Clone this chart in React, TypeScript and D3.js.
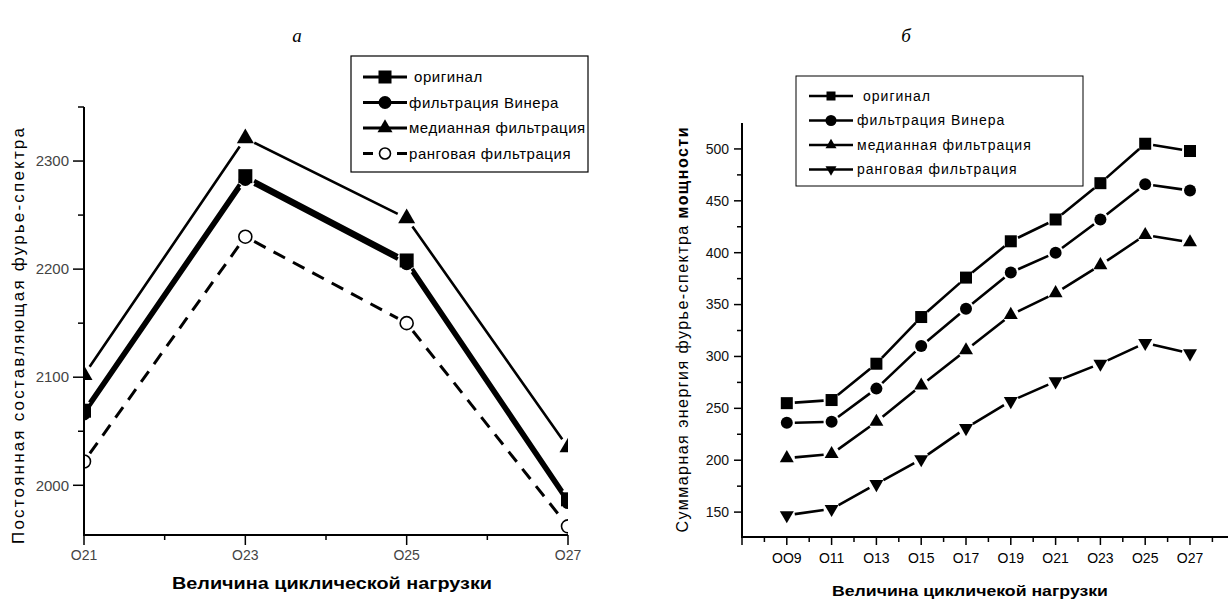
import * as d3 from 'd3';

// --- chart а: постоянная составляющая ---
const leftCats = ['O21', 'O23', 'O25', 'O27'];
const leftOriginal = [2069, 2286, 2208, 1987];
const leftWiener = [2066, 2283, 2205, 1984];
const leftMedian = [2102, 2321, 2247, 2035];
const leftRank = [2022, 2230, 2150, 1962];
const leftTicks = [2000, 2100, 2200, 2300];
const leftMinor = [2050, 2150, 2250, 2350];

// --- chart б: суммарная энергия ---
const rightCats = ['OO9', 'O11', 'O13', 'O15', 'O17', 'O19', 'O21', 'O23', 'O25', 'O27'];
const rightOriginal = [255, 258, 293, 338, 376, 411, 432, 467, 505, 498];
const rightWiener = [236, 237, 269, 310, 346, 381, 400, 432, 466, 460];
const rightMedian = [202, 206, 237, 272, 306, 340, 361, 388, 417, 410];
const rightRank = [147, 153, 177, 201, 231, 257, 276, 293, 313, 303];
const rightTicks = [150, 200, 250, 300, 350, 400, 450, 500];
const rightMinor = [175, 225, 275, 325, 375, 425, 475];

const legendNames = ['оригинал', 'фильтрация Винера', 'медианная фильтрация', 'ранговая фильтрация'];
const sans = 'Arial, "Liberation Sans", sans-serif';

type Pt = [number, number];

// segments between points, cut back near the markers like Origin does
function gappedPath(pts: Pt[], gap: number) {
  let d = '';
  for (let i = 0; i < pts.length - 1; i++) {
    const [x1, y1] = pts[i];
    const [x2, y2] = pts[i + 1];
    const len = Math.hypot(x2 - x1, y2 - y1);
    if (len <= gap * 2) continue;
    const ux = (x2 - x1) / len, uy = (y2 - y1) / len;
    d += `M${x1 + ux * gap},${y1 + uy * gap}L${x2 - ux * gap},${y2 - uy * gap}`;
  }
  return d;
}

function Marker({ kind, x, y, s }: { kind: string; x: number; y: number; s: number }) {
  if (kind === 'square')
    return <rect x={x - s / 2} y={y - s / 2} width={s} height={s} fill="#000" />;
  if (kind === 'circle') return <circle cx={x} cy={y} r={s / 2} fill="#000" />;
  if (kind === 'open')
    return <circle cx={x} cy={y} r={s / 2 - 1} fill="#fff" stroke="#000" strokeWidth={1.6} />;
  const tri = d3.symbol().type(d3.symbolTriangle).size((Math.sqrt(3) / 4) * s * s)()!;
  return (
    <path d={tri} fill="#000" transform={`translate(${x},${y})${kind === 'down' ? ' rotate(180)' : ''}`} />
  );
}

function LeftChart() {
  const x = d3.scaleLinear().domain([0, leftCats.length - 1]).range([84, 568]);
  const y = d3.scaleLinear().domain([1954, 2350]).range([535, 107]);
  const series = [
    { v: leftOriginal, kind: 'square', w: 3.8, dash: undefined as string | undefined, s: 14 },
    { v: leftWiener, kind: 'circle', w: 3.8, dash: undefined, s: 13 },
    { v: leftMedian, kind: 'tri', w: 2.6, dash: undefined, s: 17 },
    { v: leftRank, kind: 'open', w: 3, dash: '13 9', s: 15 },
  ];
  return (
    <g>
      <defs>
        <clipPath id="clipL">
          <rect x={84} y={100} width={484} height={435} />
        </clipPath>
      </defs>
      <g clipPath="url(#clipL)">
        {series.map((s, i) => (
          <path key={i} d={gappedPath(s.v.map((v, j) => [x(j), y(v)] as Pt), 10)}
            fill="none" stroke="#000" strokeWidth={s.w} strokeDasharray={s.dash} />
        ))}
        {series.map((s, i) =>
          s.v.map((v, j) => <Marker key={`${i}-${j}`} kind={s.kind} x={x(j)} y={y(v)} s={s.s} />)
        )}
      </g>
      {/* axes */}
      <line x1={84} y1={107} x2={84} y2={536} stroke="#000" strokeWidth={2} />
      <line x1={83} y1={535} x2={568} y2={535} stroke="#000" strokeWidth={2} />
      {leftTicks.map(t => (
        <g key={t}>
          <line x1={73} x2={84} y1={y(t)} y2={y(t)} stroke="#000" strokeWidth={1.5} />
          <text x={69} y={y(t)} dy="0.35em" textAnchor="end" fontFamily={sans} fontSize={15} fill="#444">{t}</text>
        </g>
      ))}
      {leftMinor.map(t => (
        <line key={t} x1={78} x2={84} y1={y(t)} y2={y(t)} stroke="#000" strokeWidth={1.5} />
      ))}
      {leftCats.map((c, j) => (
        <g key={c}>
          <line x1={x(j)} x2={x(j)} y1={535} y2={545} stroke="#000" strokeWidth={1.5} />
          <text x={x(j)} y={560} textAnchor="middle" fontFamily={sans} fontSize={14} fill="#444">{c}</text>
        </g>
      ))}
      {leftCats.slice(1).map((c, j) => (
        <line key={c} x1={(x(j) + x(j + 1)) / 2} x2={(x(j) + x(j + 1)) / 2} y1={535} y2={540} stroke="#000" strokeWidth={1.5} />
      ))}
      <text x={332} y={589} textAnchor="middle" fontFamily={sans} fontSize={16} fontWeight="bold"
        textLength={320} lengthAdjust="spacingAndGlyphs">Величина циклической нагрузки</text>
      <text transform="translate(24,336) rotate(-90)" textAnchor="middle" fontFamily={sans} fontSize={17}
        textLength={416} lengthAdjust="spacing">Постоянная составляющая фурье-спектра</text>
      {/* legend */}
      <rect x={351} y={56} width={237} height={116} fill="#fff" stroke="#000" strokeWidth={1.2} />
      {series.map((s, i) => {
        const ly = 77 + i * 25.5;
        return (
          <g key={i}>
            {s.dash ? (
              <path d={`M363,${ly}H373M397,${ly}H407`} stroke="#000" strokeWidth={3} />
            ) : (
              <line x1={363} x2={407} y1={ly} y2={ly} stroke="#000" strokeWidth={3} />
            )}
            <Marker kind={s.kind} x={385} y={ly} s={s.kind === 'tri' ? 15 : 13} />
            <text x={i === 0 ? 414 : 409} y={ly} dy="0.35em" fontFamily={sans} fontSize={15}
              letterSpacing={0.55}>{legendNames[i]}</text>
          </g>
        );
      })}
      <text x={297} y={42} textAnchor="middle" fontFamily='"Liberation Serif", serif' fontStyle="italic" fontSize={19}>а</text>
    </g>
  );
}

function RightChart() {
  const x = d3.scaleLinear().domain([-1, rightCats.length - 1]).range([742, 1190]);
  const y = d3.scaleLinear().domain([126, 525]).range([537, 123]);
  const series = [
    { v: rightOriginal, kind: 'square', s: 12 },
    { v: rightWiener, kind: 'circle', s: 12 },
    { v: rightMedian, kind: 'tri', s: 14 },
    { v: rightRank, kind: 'down', s: 14 },
  ];
  const minorX = d3.range(-0.5, 9.9, 1);
  return (
    <g>
      {series.map((s, i) => (
        <path key={i} d={gappedPath(s.v.map((v, j) => [x(j), y(v)] as Pt), 8)}
          fill="none" stroke="#000" strokeWidth={2.6} />
      ))}
      {series.map((s, i) =>
        s.v.map((v, j) => <Marker key={`${i}-${j}`} kind={s.kind} x={x(j)} y={y(v)} s={s.s} />)
      )}
      <line x1={742} y1={123} x2={742} y2={538} stroke="#000" strokeWidth={2} />
      <line x1={741} y1={537} x2={1228} y2={537} stroke="#000" strokeWidth={2} />
      {rightTicks.map(t => (
        <g key={t}>
          <line x1={734} x2={742} y1={y(t)} y2={y(t)} stroke="#000" strokeWidth={1.5} />
          <text x={729} y={y(t)} dy="0.35em" textAnchor="end" fontFamily={sans} fontSize={14} fill="#111">{t}</text>
        </g>
      ))}
      {rightMinor.map(t => (
        <line key={t} x1={737} x2={742} y1={y(t)} y2={y(t)} stroke="#000" strokeWidth={1.5} />
      ))}
      <line x1={742} x2={742} y1={537} y2={545} stroke="#000" strokeWidth={1.5} />
      {rightCats.map((c, j) => (
        <g key={c}>
          <line x1={x(j)} x2={x(j)} y1={537} y2={545} stroke="#000" strokeWidth={1.5} />
          <text x={x(j)} y={563} textAnchor="middle" fontFamily={sans} fontSize={14}>{c}</text>
        </g>
      ))}
      {minorX.map(m => (
        <line key={m} x1={x(m)} x2={x(m)} y1={537} y2={542} stroke="#000" strokeWidth={1.5} />
      ))}
      <text x={970} y={596} textAnchor="middle" fontFamily={sans} fontSize={15} fontWeight="bold"
        textLength={276} lengthAdjust="spacingAndGlyphs">Величина цикличекой нагрузки</text>
      <text transform="translate(688,330) rotate(-90)" textAnchor="middle" fontFamily={sans} fontSize={16}
        textLength={405} lengthAdjust="spacing">Суммарная энергия фурье-спектра <tspan fontWeight="bold">мощности</tspan></text>
      {/* legend */}
      <rect x={796} y={76} width={287} height={110} fill="#fff" stroke="#000" strokeWidth={1} />
      {series.map((s, i) => {
        const ly = 96 + i * 24.5;
        return (
          <g key={i}>
            <line x1={809} x2={853} y1={ly} y2={ly} stroke="#000" strokeWidth={2.6} />
            <Marker kind={s.kind} x={831} y={ly} s={s.kind === 'square' ? 9 : 11} />
            <text x={i === 0 ? 863 : 857} y={ly} dy="0.35em" fontFamily={sans} fontSize={14}
              letterSpacing={1}>{legendNames[i]}</text>
          </g>
        );
      })}
      <text x={906} y={42} textAnchor="middle" fontFamily='"Liberation Serif", serif' fontStyle="italic" fontSize={19}>б</text>
    </g>
  );
}

export default function App() {
  return (
    <svg width={1228} height={601} style={{ position: 'absolute', left: 0, top: 0, background: '#fff' }}>
      <rect width={1228} height={601} fill="#fff" />
      <LeftChart />
      <RightChart />
    </svg>
  );
}
